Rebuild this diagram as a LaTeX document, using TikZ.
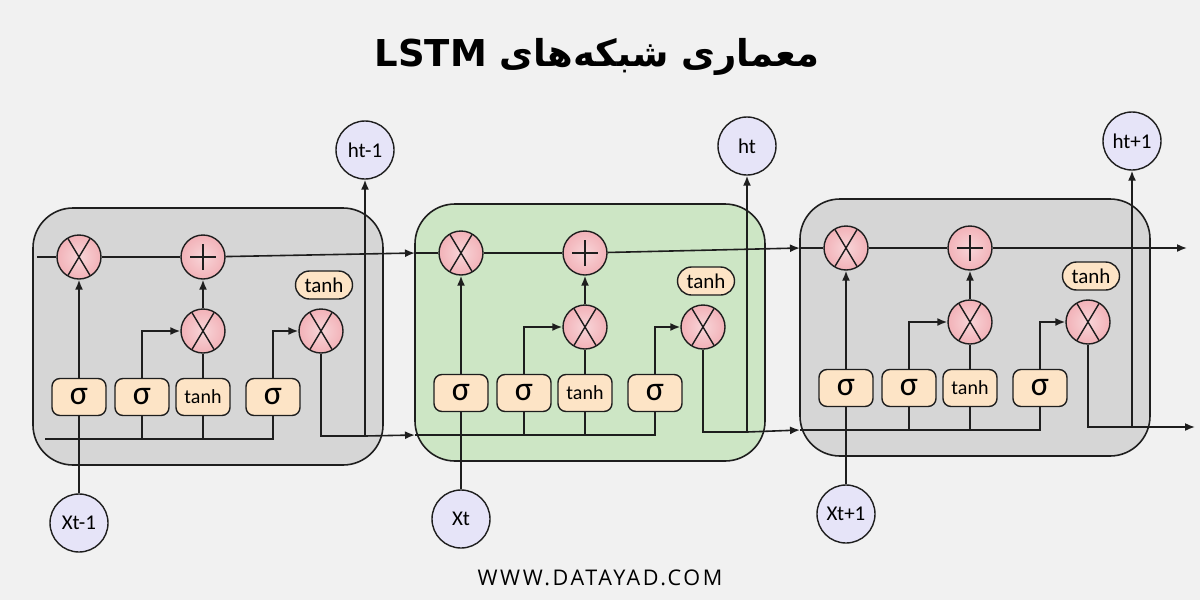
\documentclass[tikz,border=0pt]{standalone}
\usepackage{fontspec}
\setmainfont{Carlito}
\newfontfamily\persianfont[Script=Arabic]{DejaVu Sans}
\newfontfamily\sitefont[LetterSpace=12]{Open Sans}
\TeXXeTstate=1
\usetikzlibrary{arrows.meta}

\definecolor{pagebg}{RGB}{241,241,241}
\definecolor{cellgrey}{RGB}{214,214,214}
\definecolor{cellgreen}{RGB}{205,230,197}
\definecolor{oppink}{RGB}{242,178,184}
\definecolor{gatepeach}{RGB}{253,228,198}
\definecolor{iolilac}{RGB}{230,228,248}
\definecolor{edgec}{RGB}{30,30,30}

\tikzset{
  cellbox/.style={draw=edgec,line width=0.8pt,rounded corners=20pt,
    minimum width=175pt,minimum height=128.5pt},
  opball/.style={circle,draw=edgec,line width=0.7pt,
    inner color=oppink!55!white,outer color=oppink,
    minimum size=22pt,inner sep=0pt},
  mulop/.style={opball,
    path picture={
      \draw[edgec,line width=0.7pt]
        ([shift={(-6pt,10pt)}]path picture bounding box.center)
        --([shift={(6pt,-10pt)}]path picture bounding box.center);
      \draw[edgec,line width=0.7pt]
        ([shift={(-6pt,-10pt)}]path picture bounding box.center)
        --([shift={(6pt,10pt)}]path picture bounding box.center);}},
  addop/.style={opball,
    path picture={
      \draw[edgec,line width=1.4pt]
        ([xshift=-6.5pt]path picture bounding box.center)
        --([xshift=6.5pt]path picture bounding box.center);
      \draw[edgec,line width=1.4pt]
        ([yshift=-6.5pt]path picture bounding box.center)
        --([yshift=6.5pt]path picture bounding box.center);}},
  gatebox/.style={draw=edgec,line width=0.7pt,fill=gatepeach,
    rounded corners=4pt,minimum width=27pt,minimum height=18.5pt,
    inner sep=0pt},
  sigmatext/.style={font=\fontsize{17}{17}\selectfont},
  tanhtext/.style={font=\fontsize{10}{10}\selectfont},
  squashpill/.style={draw=edgec,line width=0.7pt,fill=gatepeach,
    rounded corners=7pt,minimum width=28.5pt,minimum height=14pt,
    inner sep=0pt,font=\fontsize{10.5}{10.5}\selectfont},
  ionode/.style={circle,draw=edgec,line width=0.7pt,fill=iolilac,
    minimum size=29pt,inner sep=0pt,font=\fontsize{10.5}{10.5}\selectfont},
  conn/.style={draw=edgec,line width=0.8pt},
  flow/.style={conn,-{Latex[length=5pt,width=4pt]}}
}

\begin{document}
\begin{tikzpicture}[x=0.5pt,y=-0.5pt]

\fill[pagebg] (0,0) rectangle (1200,600);
\useasboundingbox (0,0) rectangle (1200,600);

%=================================================
% TITLE AND SITE
%=================================================

\node[font={\persianfont\bfseries\fontsize{18.5}{22}\selectfont}]
(title) at (597,57)
{\beginR معماری شبکه‌های \beginL LSTM\endL\endR};

\node[font={\sitefont\fontsize{10.8}{12}\selectfont}]
(site) at (600,578)
{WWW.DATAYAD.COM};

%=================================================
% THREE CELLS
%=================================================

\foreach \i/\cx/\cy/\cfill/\st/\xl/\hl in
  {1/33/208/cellgrey/12/{Xt-1}/{ht-1},
   2/415/204/cellgreen/0/{Xt}/{ht},
   3/800/199/cellgrey/0/{Xt+1}/{ht+1}}
{
% cell body
\node[cellbox,fill=\cfill] (c\i) at (\cx+175,\cy+128.5) {};

% operators
\node[mulop] (f\i) at (\cx+46,\cy+49) {};
\node[addop] (a\i) at (\cx+170,\cy+49) {};
\node[mulop] (m\i) at (\cx+170,\cy+123) {};
\node[mulop] (o\i) at (\cx+288,\cy+123) {};
\node[squashpill] (p\i) at (\cx+291,\cy+77) {tanh};

% gates
\node[gatebox,sigmatext] (sa\i) at (\cx+46,\cy+189) {σ};
\node[gatebox,sigmatext] (sb\i) at (\cx+109,\cy+189) {σ};
\node[gatebox,tanhtext] (sc\i) at (\cx+170,\cy+189) {tanh};
\node[gatebox,sigmatext] (sd\i) at (\cx+240,\cy+189) {σ};

% input and output
\node[ionode] (x\i) at (\cx+46,\cy+315) {\xl};
\node[ionode] (h\i) at (\cx+332,\cy-58) {\hl};

\coordinate (t\i) at (\cx+\st/3,\cy+49);
\coordinate (b\i) at (\cx+\st,\cy+231);
\coordinate (j\i) at (\cx+332,\cy+228);

% cell state line
\draw[conn] (t\i) -- (f\i) -- (a\i);

% gate wiring
\draw[flow] (sa\i) -- (f\i);
\draw[flow] (sb\i.north) |- (m\i.west);
\draw[conn] (sc\i) -- (m\i);
\draw[flow] (m\i) -- (a\i);
\draw[flow] (sd\i.north) |- (o\i.west);

% bottom line
\draw[conn] (b\i) -- (sd\i.south |- b\i) -- (sd\i.south);
\draw[conn] (sb\i.south) -- (sb\i.south |- b\i);
\draw[conn] (sc\i.south) -- (sc\i.south |- b\i);

% x in, h out
\draw[conn] (x\i) -- (sa\i);
\draw[conn] (o\i.south) |- (j\i);
\draw[flow] (j\i) -- (h\i);
}

%=================================================
% LINKS BETWEEN CELLS
%=================================================

\draw[flow] (a1) -- (t2);
\draw[flow] (j1) -- (b2);
\draw[flow] (a2) -- (t3);
\draw[flow] (j2) -- (b3);

\coordinate (cend) at (1187,248);
\coordinate (hend) at (1195,427);
\draw[flow] (a3) -- (cend);
\draw[flow] (j3) -- (hend);

\end{tikzpicture}
\end{document}
